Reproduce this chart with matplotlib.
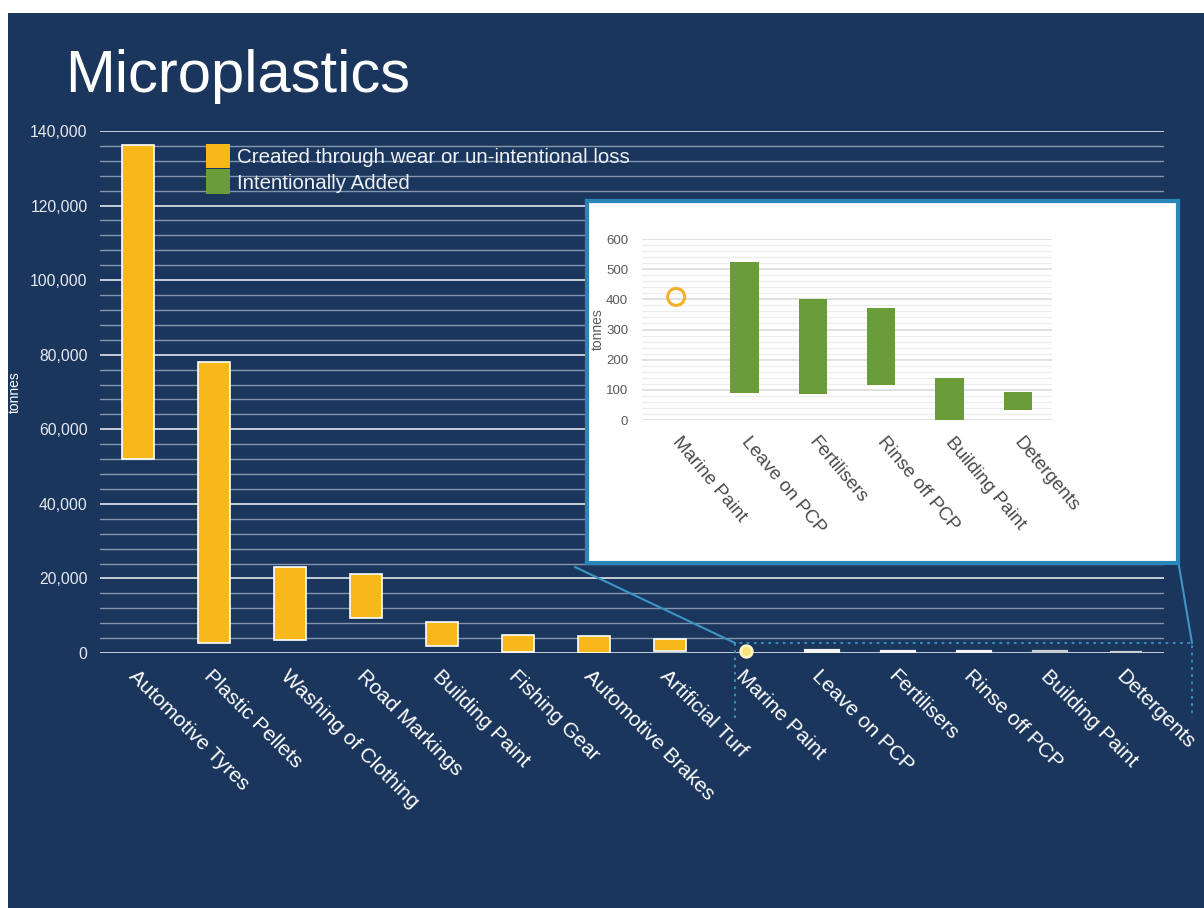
import numpy as np
import matplotlib
matplotlib.use("Agg")
import matplotlib.pyplot as plt
from matplotlib.patches import Patch, Rectangle
from matplotlib.lines import Line2D
from matplotlib.transforms import ScaledTranslation
from matplotlib.ticker import MultipleLocator, FuncFormatter

plt.rcParams["font.family"] = ["Liberation Sans", "DejaVu Sans"]

# ---------------------------------------------------------------
# Data (tonnes) - floating bars: low / high per source
# ---------------------------------------------------------------
wear_sources = [
    "Automotive Tyres", "Plastic Pellets", "Washing of Clothing",
    "Road Markings", "Building Paint", "Fishing Gear",
    "Automotive Brakes", "Artificial Turf",
]
wear_low = [52000, 2700, 3500, 9400, 1900, 300, 0, 500]
wear_high = [136300, 78000, 23100, 21200, 8300, 4800, 4600, 3800]

added_sources = [
    "Marine Paint", "Leave on PCP", "Fertilisers",
    "Rinse off PCP", "Building Paint", "Detergents",
]
added_low = [None, 90, 86, 116, 0, 33]
added_high = [None, 524, 401, 371, 140, 93]
marine_paint_point = 408

NAVY = "#1b365d"
YELLOW = "#f8b81c"
GREEN = "#6a9d3a"
TEAL = "#2a86b8"

W, H = 1204, 908
fig = plt.figure(figsize=(W / 100, H / 100), dpi=100, facecolor="white")


def px(x, y):
    """pixel (from top-left) -> figure fraction"""
    return x / W, 1 - y / H


# navy slide background
fig.patches.append(Rectangle((8 / W, 0), 1 - 8 / W, 1 - 13 / H,
                             transform=fig.transFigure, facecolor=NAVY,
                             edgecolor="none", zorder=-10))

fig.text(*px(65, 92), "Microplastics", color="white", fontsize=43,
         va="baseline", ha="left")

####################################################
# Main chart
####################################################

ax = fig.add_axes([100 / W, (H - 653) / H, 1064 / W, 522 / H])
ax.set_facecolor("none")

all_labels = wear_sources + added_sources
x_wear = np.arange(len(wear_sources))
x_added = np.arange(len(added_sources)) + len(wear_sources)

ax.bar(x_wear, np.array(wear_high) - np.array(wear_low), bottom=wear_low,
       width=0.41, color=YELLOW, edgecolor="white", linewidth=1.2, zorder=3)

lo = np.array([v if v is not None else 0 for v in added_low], float)
hi = np.array([v if v is not None else 0 for v in added_high], float)
ax.bar(x_added[1:], (hi - lo)[1:], bottom=lo[1:], width=0.41, color=GREEN,
       edgecolor=["#f4f4f4", "#f4f4f4", "#f4f4f4", "#c9ced6", "#c9ced6"],
       linewidth=3, zorder=3)
ax.scatter([x_added[0]], [marine_paint_point], s=70, color="#fbe27a",
           edgecolor="#fff6c0", linewidth=2, zorder=5, clip_on=False)

ax.set_xlim(-0.5, len(all_labels) - 0.5)
ax.set_ylim(0, 140000)
ax.yaxis.set_major_locator(MultipleLocator(20000))
ax.yaxis.set_minor_locator(MultipleLocator(4000))
ax.yaxis.set_major_formatter(FuncFormatter(lambda v, p: f"{int(v):,}"))
ax.grid(axis="y", which="major", color="#d3d9e2", linewidth=1.3, zorder=1)
ax.grid(axis="y", which="minor", color="#8395ad", linewidth=1.0, zorder=1)
ax.set_axisbelow(True)

for s in ax.spines.values():
    s.set_visible(False)

ax.tick_params(axis="y", which="both", length=0, pad=9,
               labelcolor="#e6eaf0", labelsize=11.3)
ax.tick_params(axis="x", length=0, pad=10)
ax.set_xticks(np.arange(len(all_labels)))
ax.set_xticklabels(all_labels, rotation=-45, ha="left", va="top",
                   rotation_mode="anchor", color="white", fontsize=15)

ax.set_ylabel("tonnes", color="white", fontsize=10)
ax.yaxis.set_label_coords((22 - 100) / 1064, 0.5)

ax.legend(
    handles=[Patch(facecolor=YELLOW, edgecolor="none"),
             Patch(facecolor=GREEN, edgecolor="none")],
    labels=["Created through wear or un-intentional loss",
            "Intentionally Added"],
    loc="upper left", bbox_to_anchor=(0.1, 0.975), frameon=False,
    fontsize=14.8, labelcolor="#eef1f5", handlelength=1.15,
    handleheight=1.45, handletextpad=0.35, labelspacing=0.05,
    borderaxespad=0, borderpad=0,
)

####################################################
# Zoom indicator lines
####################################################

zoom_col = "#3d95c6"
fig.lines.append(Line2D([575 / W, 735 / W], [1 - 567 / H, 1 - 643 / H],
                        transform=fig.transFigure, color=zoom_col, lw=1.5,
                        zorder=4))
fig.lines.append(Line2D([1179 / W, 1192 / W], [1 - 566 / H, 1 - 643 / H],
                        transform=fig.transFigure, color=zoom_col, lw=1.5,
                        zorder=4))
fig.lines.append(Line2D([735 / W, 735 / W, 1192 / W, 1192 / W],
                        [1 - 718 / H, 1 - 643 / H, 1 - 643 / H, 1 - 718 / H],
                        transform=fig.transFigure, color=zoom_col, lw=1.3,
                        linestyle=(0, (1.5, 2.5)), zorder=4))

####################################################
# Inset chart
####################################################

frame = fig.add_axes([587 / W, (H - 563) / H, 591 / W, 362 / H])
frame.set_facecolor("white")
frame.set_xticks([])
frame.set_yticks([])
for s in frame.spines.values():
    s.set_color(TEAL)
    s.set_linewidth(3)

ins = fig.add_axes([642 / W, (H - 420) / H, 410 / W, 181 / H])
ins.set_facecolor("white")

ins.bar(np.arange(1, 6), (hi - lo)[1:], bottom=lo[1:], width=0.41,
        color=GREEN, zorder=3)
ins.scatter([0], [marine_paint_point], s=150, facecolor="none",
            edgecolor="#f3b02a", linewidth=2.2, zorder=4)

ins.set_xlim(-0.5, 5.5)
ins.set_ylim(0, 600)
ins.yaxis.set_major_locator(MultipleLocator(100))
ins.yaxis.set_minor_locator(MultipleLocator(20))
ins.grid(axis="y", which="major", color="#dcdcdc", linewidth=1.2, zorder=1)
ins.grid(axis="y", which="minor", color="#ececec", linewidth=0.9, zorder=1)
ins.set_axisbelow(True)
for s in ins.spines.values():
    s.set_visible(False)

ins.tick_params(axis="y", which="both", length=0, pad=10,
                labelcolor="#595959", labelsize=9.5)
ins.tick_params(axis="x", length=0, pad=10)
ins.set_xticks(np.arange(len(added_sources)))
ins.set_xticklabels(added_sources, rotation=-50, ha="left", va="top",
                    rotation_mode="anchor", color="#4a4a4a", fontsize=13.5)
shift = ScaledTranslation(6 / 100, 0, fig.dpi_scale_trans)
for lbl in ins.get_xticklabels():
    lbl.set_transform(lbl.get_transform() + shift)
ins.set_ylabel("tonnes", color="#595959", fontsize=10)
ins.yaxis.set_label_coords((605 - 642) / 410, 0.5)

fig.savefig("out.png", dpi=100, facecolor=fig.get_facecolor())
